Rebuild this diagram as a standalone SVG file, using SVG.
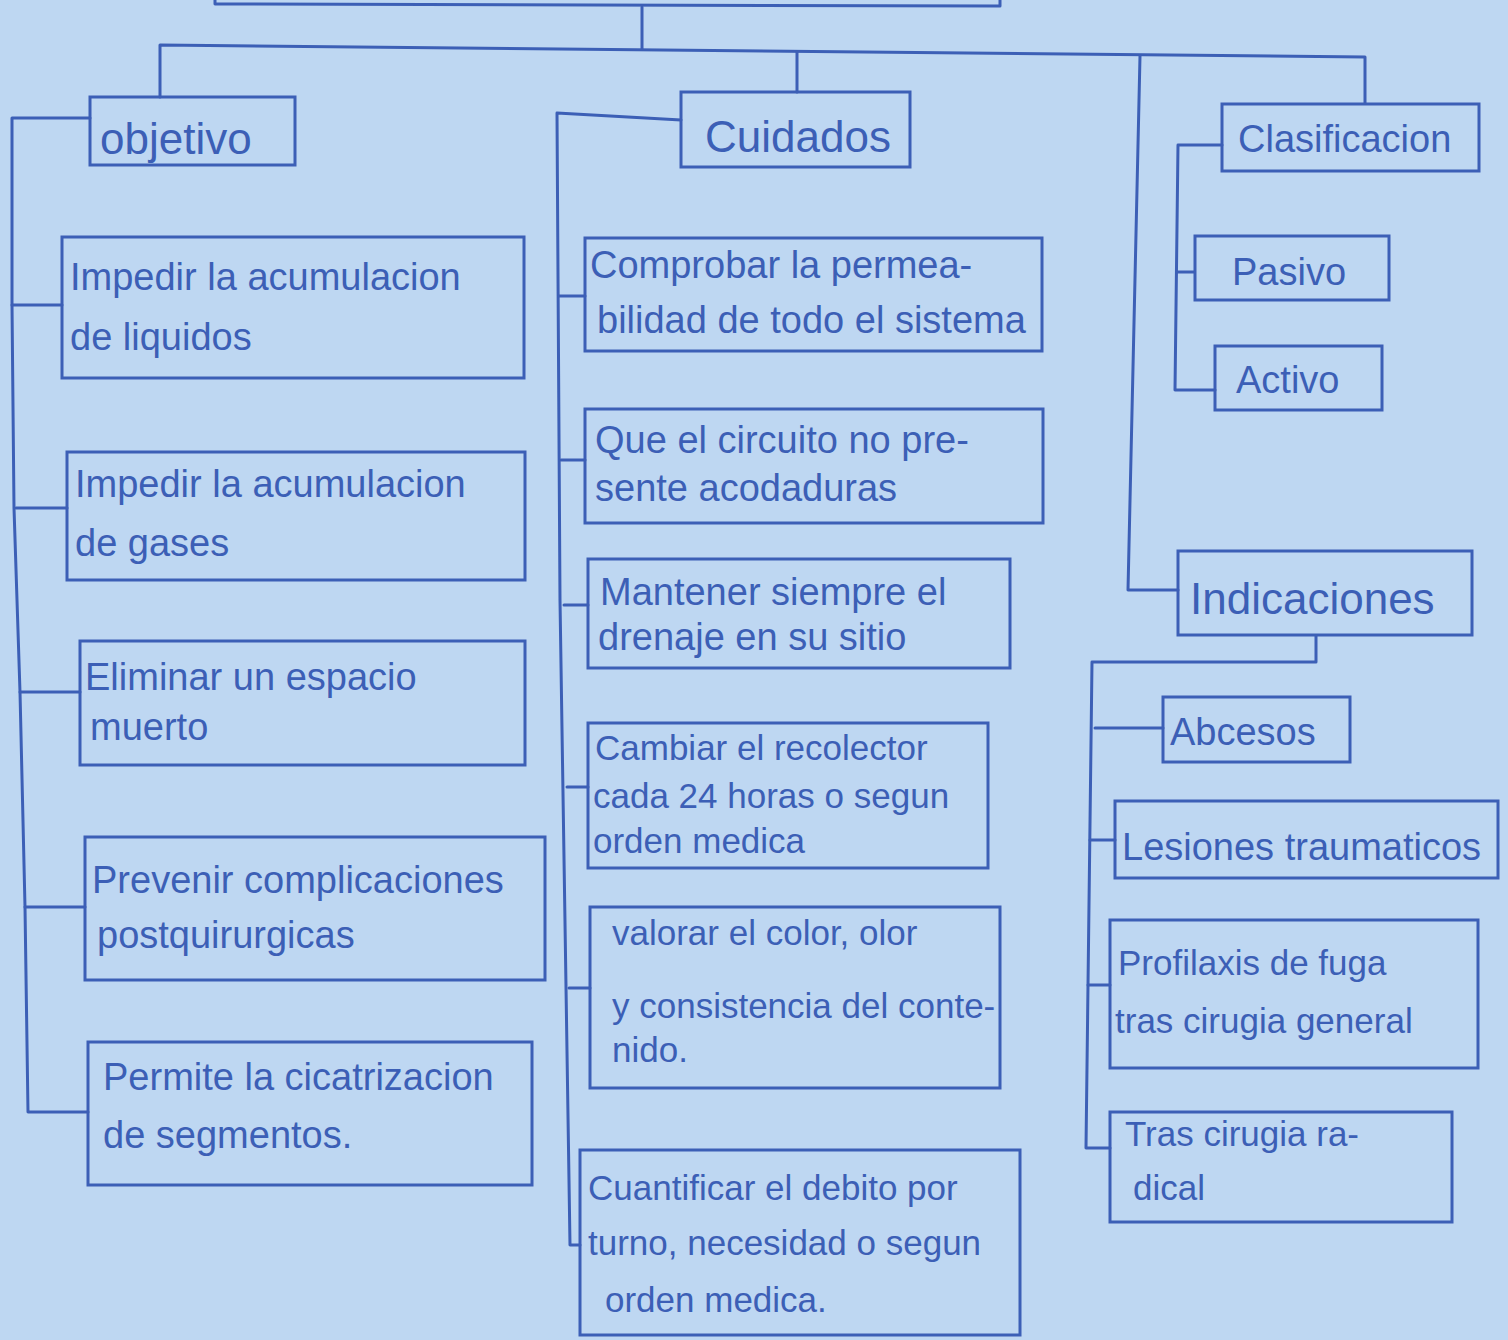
<svg xmlns="http://www.w3.org/2000/svg" width="1508" height="1340" viewBox="0 0 1508 1340">
<style>
.bg{fill:#bed7f2}
.box{fill:none;stroke:#3c5fb6;stroke-width:3}
.ln{fill:none;stroke:#3c5fb6;stroke-width:3;stroke-linecap:round;stroke-linejoin:round}
text{font-family:"Liberation Sans","DejaVu Sans",sans-serif;fill:#3c5fb6}
.t{font-size:38px}
.s{font-size:35px}
.h{font-size:44px}
</style>
<rect class="bg" x="0" y="0" width="1508" height="1340"/>
<g id="connectors">
<path class="ln" d="M215,-5 L215,4 L1000,6 L1000,-5"/>
<path class="ln" d="M642,7 L642,49"/>
<path class="ln" d="M160,97 L160,45 L1365,57 L1365,103"/>
<path class="ln" d="M797,52 L797,92"/>
<path class="ln" d="M1140,56 L1128,590 L1178,590"/>
<path class="ln" d="M90,118 L12,118 L12,305 L14,508 L20,692 L25,907 L28,1112 L88,1112"/>
<path class="ln" d="M12,305 L62,305"/>
<path class="ln" d="M16,508 L67,508"/>
<path class="ln" d="M20,692 L80,692"/>
<path class="ln" d="M25,907 L85,907"/>
<path class="ln" d="M681,120 L557,113 L560,600 L570,1245 L580,1245"/>
<path class="ln" d="M559,296 L585,296"/>
<path class="ln" d="M561,460 L585,460"/>
<path class="ln" d="M564,605 L588,605"/>
<path class="ln" d="M567,787 L588,787"/>
<path class="ln" d="M569,988 L590,988"/>
<path class="ln" d="M1222,145 L1178,145 L1175,390 L1215,390"/>
<path class="ln" d="M1177,272 L1194,272"/>
<path class="ln" d="M1316,636 L1316,662 L1092,662 L1086,1148 L1110,1148"/>
<path class="ln" d="M1095,728 L1163,728"/>
<path class="ln" d="M1090,840 L1115,840"/>
<path class="ln" d="M1088,985 L1110,985"/>
</g>
<g id="node-objetivo"><rect class="box" x="90" y="97" width="205" height="68"/><text class="h" x="100" y="154">objetivo</text></g>
<g id="node-o1"><rect class="box" x="62" y="237" width="462" height="141"/><text class="t" x="70" y="290">Impedir la acumulacion</text><text class="t" x="70" y="350">de liquidos</text></g>
<g id="node-o2"><rect class="box" x="67" y="452" width="458" height="128"/><text class="t" x="75" y="497">Impedir la acumulacion</text><text class="t" x="75" y="556">de gases</text></g>
<g id="node-o3"><rect class="box" x="80" y="641" width="445" height="124"/><text class="t" x="85" y="690">Eliminar un espacio</text><text class="t" x="90" y="740">muerto</text></g>
<g id="node-o4"><rect class="box" x="85" y="837" width="460" height="143"/><text class="t" x="92" y="893">Prevenir complicaciones</text><text class="t" x="97" y="948">postquirurgicas</text></g>
<g id="node-o5"><rect class="box" x="88" y="1042" width="444" height="143"/><text class="t" x="103" y="1090">Permite la cicatrizacion</text><text class="t" x="103" y="1148">de segmentos.</text></g>
<g id="node-cuidados"><rect class="box" x="681" y="92" width="229" height="75"/><text class="h" x="705" y="152">Cuidados</text></g>
<g id="node-c1"><rect class="box" x="585" y="238" width="457" height="113"/><text class="t" x="590" y="278">Comprobar la permea-</text><text class="t" x="597" y="333">bilidad de todo el sistema</text></g>
<g id="node-c2"><rect class="box" x="585" y="409" width="458" height="114"/><text class="t" x="595" y="453">Que el circuito no pre-</text><text class="t" x="595" y="501">sente acodaduras</text></g>
<g id="node-c3"><rect class="box" x="588" y="559" width="422" height="109"/><text class="t" x="600" y="605">Mantener siempre el</text><text class="t" x="598" y="650">drenaje en su sitio</text></g>
<g id="node-c4"><rect class="box" x="588" y="723" width="400" height="145"/><text class="s" x="595" y="760">Cambiar el recolector</text><text class="s" x="593" y="808">cada 24 horas o segun</text><text class="s" x="593" y="853">orden medica</text></g>
<g id="node-c5"><rect class="box" x="590" y="907" width="410" height="181"/><text class="s" x="612" y="945">valorar el color, olor</text><text class="s" x="612" y="1018">y consistencia del conte-</text><text class="s" x="612" y="1062">nido.</text></g>
<g id="node-c6"><rect class="box" x="580" y="1150" width="440" height="185"/><text class="s" x="588" y="1200">Cuantificar el debito por</text><text class="s" x="588" y="1255">turno, necesidad o segun</text><text class="s" x="605" y="1312">orden medica.</text></g>
<g id="node-clasificacion"><rect class="box" x="1222" y="104" width="257" height="67"/><text class="t" x="1238" y="152">Clasificacion</text></g>
<g id="node-pasivo"><rect class="box" x="1195" y="236" width="194" height="64"/><text class="t" x="1232" y="285">Pasivo</text></g>
<g id="node-activo"><rect class="box" x="1215" y="346" width="167" height="64"/><text class="t" x="1236" y="393">Activo</text></g>
<g id="node-indicaciones"><rect class="box" x="1178" y="551" width="294" height="84"/><text class="h" x="1190" y="614">Indicaciones</text></g>
<g id="node-abcesos"><rect class="box" x="1163" y="697" width="187" height="65"/><text class="t" x="1170" y="745">Abcesos</text></g>
<g id="node-lesiones"><rect class="box" x="1115" y="801" width="383" height="77"/><text class="t" x="1122" y="860">Lesiones traumaticos</text></g>
<g id="node-profilaxis"><rect class="box" x="1110" y="920" width="368" height="148"/><text class="s" x="1118" y="975">Profilaxis de fuga</text><text class="s" x="1115" y="1033">tras cirugia general</text></g>
<g id="node-radical"><rect class="box" x="1110" y="1112" width="342" height="110"/><text class="s" x="1125" y="1146">Tras cirugia ra-</text><text class="s" x="1133" y="1200">dical</text></g>
</svg>
